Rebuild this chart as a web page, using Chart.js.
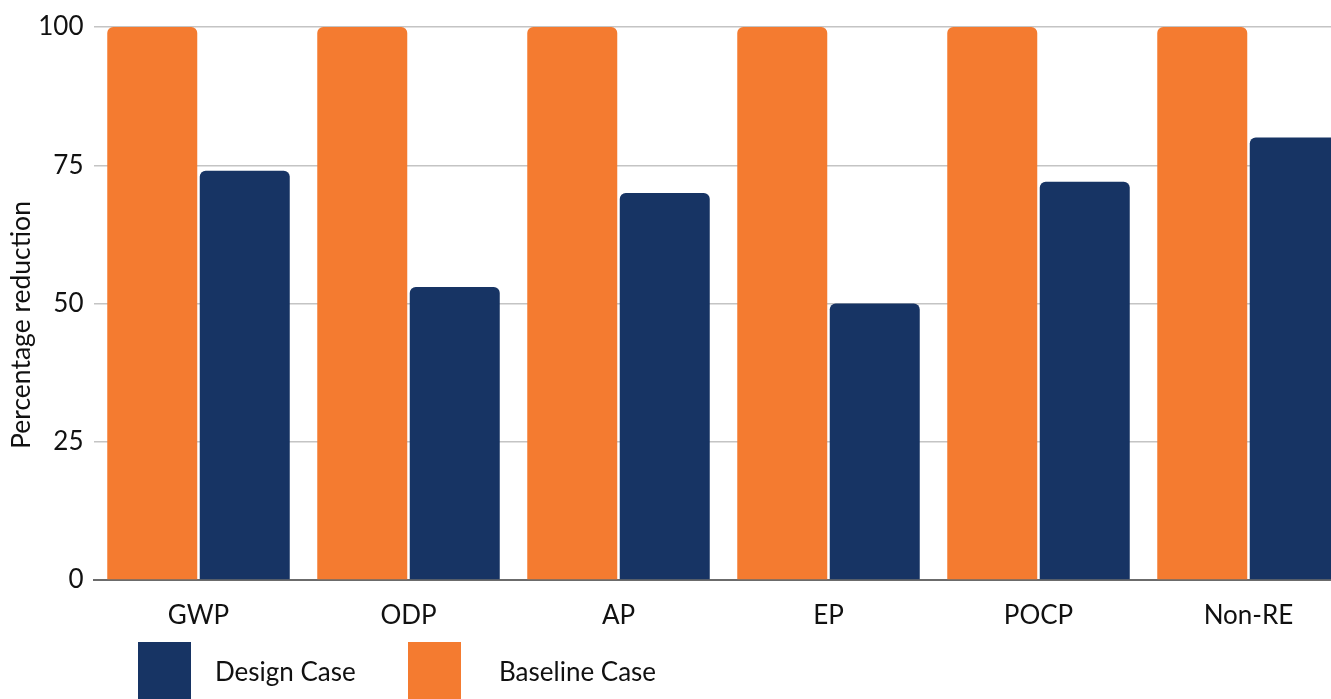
<!DOCTYPE html>
<html>
<head>
<meta charset="utf-8">
<script src="https://cdn.jsdelivr.net/npm/chart.js@4.4.1/dist/chart.umd.min.js"></script>
<style>
	html, body {margin: 0; padding: 0; background: #fff; overflow: hidden;}
	#wrap {position: relative; width: 1365px; height: 699px;}
	#legend {position: absolute; left: 0; top: 642px; width: 1331px; height: 58px;
		font-family: Lato, "Open Sans", sans-serif; font-size: 26px; color: #111;}
	#legend .box {width: 53px; height: 58px;}
	#legend .item {position: absolute; top: 0; display: flex; align-items: center;}
	#legend .item0 {left: 138px;}
	#legend .item0 .box {margin-right: 24px;}
	#legend .item1 {left: 408px;}
	#legend .item1 .box {margin-right: 38px;}
</style>
</head>
<body>
<div id="wrap">
	<canvas id="myChart" width="1365" height="699"></canvas>
	<div id="legend"></div>
</div>
<script>
var categories = ["GWP", "ODP", "AP", "EP", "POCP", "Non-RE"];
var baselineValues = [100, 100, 100, 100, 100, 100];
var designValues = [74, 53, 70, 50, 72, 80];
var yTicks = [0, 25, 50, 75, 100];
var seriesNames = ["Baseline Case", "Design Case"];
var seriesColors = ["#f47b30", "#173464"];
var yTitle = "Percentage reduction";

var FONT = "Lato, 'Open Sans', sans-serif";

//datasets: orange bar first (left), navy second
var datasets = [
	{label: seriesNames[0], data: baselineValues, backgroundColor: seriesColors[0]},
	{label: seriesNames[1], data: designValues, backgroundColor: seriesColors[1]}
];
datasets.forEach(function(ds){
	ds.borderRadius = {topLeft: 6, topRight: 6, bottomLeft: 0, bottomRight: 0};
	ds.borderSkipped = "bottom";
	ds.barPercentage = 90 / 92.5;
	ds.categoryPercentage = 185 / 210;
});

//y title sits a bit below the middle of the axis in the original, so draw it by hand
var yTitlePlugin = {
	id: "yTitle",
	afterDraw: function(chart){
		var c = chart.ctx, area = chart.chartArea;
		c.save();
		c.translate(21, (area.top + area.bottom) / 2 + 21.5);
		c.rotate(-Math.PI / 2);
		c.textAlign = "center";
		c.textBaseline = "middle";
		c.fillStyle = "#111";
		c.font = "26.5px " + FONT;
		c.fillText(yTitle, 0, 0);
		c.restore();
	}
};

var ctx = document.getElementById("myChart").getContext("2d");
var chart = new Chart(ctx, {
	type: "bar",
	data: {labels: categories, datasets: datasets},
	plugins: [yTitlePlugin],
	options: {
		responsive: false,
		animation: false,
		layout: {padding: {top: 27, right: 11.5, left: 0, bottom: 0}},
		plugins: {legend: {display: false}, tooltip: {enabled: false}},
		scales: {
			x: {
				grid: {display: false},
				border: {display: true, color: "#6b6b6b", width: 2},
				ticks: {color: "#111", font: {family: FONT, size: 26}, padding: 12},
				afterFit: function(scale){ scale.height = 119; }
			},
			y: {
				min: 0, max: 100,
				afterBuildTicks: function(scale){
					scale.ticks = yTicks.map(function(v){ return {value: v}; });
				},
				grid: {color: "#c4c4c4", lineWidth: 1.5, drawTicks: false},
				border: {display: false},
				ticks: {color: "#111", font: {family: FONT, size: 26}, padding: 10},
				title: {display: false},
				afterFit: function(scale){ scale.width = 93.5; }
			}
		}
	}
});

//legend drawn as html, design case first
var legendOrder = [1, 0];
var legend = document.getElementById("legend");
legendOrder.forEach(function(i, n){
	var item = document.createElement("div");
	item.className = "item item" + n;
	item.innerHTML = '<div class="box" style="background:' + seriesColors[i] + '"></div><span>' + seriesNames[i] + '</span>';
	legend.appendChild(item);
});
</script>
</body>
</html>
